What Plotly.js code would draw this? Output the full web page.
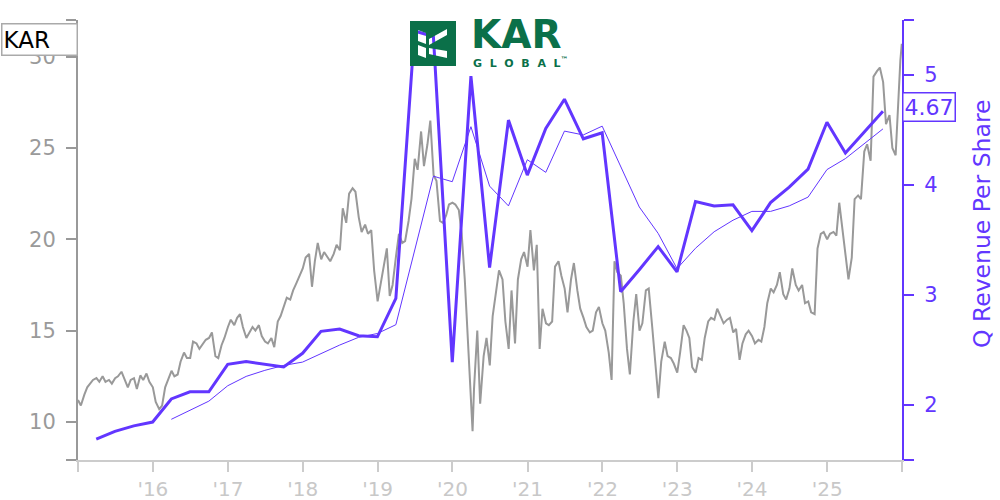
<!DOCTYPE html>
<html><head><meta charset="utf-8">
<script src="https://cdn.plot.ly/plotly-3.0.1.min.js"></script>
<style>html,body{margin:0;padding:0;background:#fff}#chart{width:1000px;height:500px}</style>
</head><body><div id="chart"></div><script>
// ---- data ----
const priceDates = [
 '2015-01-01','2015-01-15','2015-02-01','2015-02-15','2015-03-01','2015-03-15','2015-04-01','2015-04-15','2015-05-01','2015-05-15','2015-06-01','2015-06-15','2015-07-01','2015-07-15','2015-08-01','2015-08-15','2015-09-01','2015-09-15','2015-10-01','2015-10-15','2015-11-01','2015-11-15','2015-12-01','2015-12-15',
 '2016-01-01','2016-01-15','2016-02-01','2016-02-15','2016-03-01','2016-03-15','2016-04-01','2016-04-15','2016-05-01','2016-05-15','2016-06-01','2016-06-15','2016-07-01','2016-07-15','2016-08-01','2016-08-15','2016-09-01','2016-09-15','2016-10-01','2016-10-15','2016-11-01','2016-11-15','2016-12-01','2016-12-15',
 '2017-01-01','2017-01-15','2017-02-01','2017-02-15','2017-03-01','2017-03-15','2017-04-01','2017-04-15','2017-05-01','2017-05-15','2017-06-01','2017-06-15','2017-07-01','2017-07-15','2017-08-01','2017-08-15','2017-09-01','2017-09-15','2017-10-01','2017-10-15','2017-11-01','2017-11-15','2017-12-01','2017-12-15',
 '2018-01-01','2018-01-15','2018-02-01','2018-02-15','2018-03-01','2018-03-15','2018-04-01','2018-04-15','2018-05-01','2018-05-15','2018-06-01','2018-06-15','2018-07-01','2018-07-15','2018-08-01','2018-08-15','2018-09-01','2018-09-15','2018-10-01','2018-10-15','2018-11-01','2018-11-15','2018-12-01','2018-12-15',
 '2019-01-01','2019-01-15','2019-02-01','2019-02-15','2019-03-01','2019-03-15','2019-04-01','2019-04-15','2019-05-01','2019-05-15','2019-06-01','2019-06-15','2019-07-01','2019-07-15','2019-08-01','2019-08-15','2019-09-01','2019-09-15','2019-10-01','2019-10-15','2019-11-01','2019-11-15','2019-12-01','2019-12-15',
 '2020-01-01','2020-01-15','2020-02-01','2020-02-15','2020-03-01','2020-03-15','2020-04-01','2020-04-08','2020-04-15','2020-05-01','2020-05-15','2020-06-01','2020-06-15','2020-07-01','2020-07-15','2020-08-01','2020-08-15','2020-09-01','2020-09-15','2020-10-01','2020-10-15','2020-11-01','2020-11-15','2020-12-01','2020-12-15',
 '2021-01-01','2021-01-15','2021-02-01','2021-02-15','2021-03-01','2021-03-15','2021-04-01','2021-04-15','2021-05-01','2021-05-15','2021-06-01','2021-06-15','2021-07-01','2021-07-15','2021-08-01','2021-08-15','2021-09-01','2021-09-15','2021-10-01','2021-10-15','2021-11-01','2021-11-15','2021-12-01','2021-12-15',
 '2022-01-01','2022-01-15','2022-02-01','2022-02-15','2022-03-01','2022-03-15','2022-04-01','2022-04-15','2022-05-01','2022-05-15','2022-06-01','2022-06-15','2022-07-01','2022-07-15','2022-08-01','2022-08-15','2022-09-01','2022-09-15','2022-10-01','2022-10-15','2022-11-01','2022-11-15','2022-12-01','2022-12-15',
 '2023-01-01','2023-01-15','2023-02-01','2023-02-15','2023-03-01','2023-03-15','2023-04-01','2023-04-15','2023-05-01','2023-05-15','2023-06-01','2023-06-15','2023-07-01','2023-07-15','2023-08-01','2023-08-15','2023-09-01','2023-09-15','2023-10-01','2023-10-15','2023-11-01','2023-11-15','2023-12-01','2023-12-15',
 '2024-01-01','2024-01-15','2024-02-01','2024-02-15','2024-03-01','2024-03-15','2024-04-01','2024-04-15','2024-05-01','2024-05-15','2024-06-01','2024-06-15','2024-07-01','2024-07-15','2024-08-01','2024-08-15','2024-09-01','2024-09-15','2024-10-01','2024-10-15','2024-11-01','2024-11-15','2024-12-01','2024-12-15',
 '2025-01-01','2025-01-15','2025-02-01','2025-02-15','2025-03-01','2025-03-15','2025-04-01','2025-04-15','2025-05-01','2025-05-15','2025-06-01','2025-06-15','2025-07-01','2025-07-15','2025-08-01','2025-08-15','2025-09-01','2025-09-15','2025-10-01','2025-10-15','2025-11-01','2025-11-15','2025-12-01','2025-12-08','2025-12-15','2025-12-24','2025-12-31'
];
const priceValues = [
 11.2,10.9,11.5,11.9,12.1,12.3,12.4,12.2,12.5,12.2,12.3,12.1,12.4,12.5,12.75,12.4,11.9,12.3,12.4,11.8,12.55,12.3,12.65,12.2,
 11.9,11.1,10.7,10.9,11.9,12.3,12.8,12.5,12.6,13.3,13.8,13.5,13.5,14.4,14.3,14.0,14.3,14.5,14.6,14.9,13.6,13.5,14.2,14.6,
 15.2,15.6,15.3,15.7,15.9,15.2,14.6,14.9,15.2,15.0,15.3,14.7,14.4,14.3,14.6,14.1,15.5,15.8,16.3,16.8,16.7,17.2,17.6,18.0,
 18.4,19.0,19.2,17.4,18.8,19.8,18.9,19.3,19.0,18.8,19.2,19.7,19.4,21.7,20.9,22.5,22.8,22.6,21.2,20.4,20.8,20.3,20.5,18.3,
 16.6,17.5,18.6,19.5,16.9,17.5,19.1,20.3,19.8,19.9,21.0,22.2,24.4,23.8,25.9,24.0,25.2,26.5,23.5,23.2,21.0,20.9,21.3,21.9,
 22.0,21.9,21.6,20.3,17.8,14.5,10.5,9.5,11.8,15.0,11.0,13.6,14.6,13.1,15.8,17.3,18.3,17.8,15.5,14.0,17.2,14.3,17.8,18.9,19.3,
 18.5,20.5,18.3,19.7,14.0,16.2,15.4,15.3,15.5,18.5,18.8,18.0,17.3,16.0,17.8,18.7,17.2,16.2,15.7,15.2,14.9,15.0,16.0,16.3,
 15.4,15.0,13.8,12.3,18.8,18.2,18.0,16.5,14.0,12.6,15.5,17.0,15.0,15.4,17.2,17.3,15.2,13.5,11.3,13.3,14.4,13.6,13.5,13.2,
 12.7,13.8,15.3,15.0,14.6,13.0,12.7,13.5,13.4,14.6,15.5,15.7,15.6,16.2,15.8,15.4,15.6,15.7,14.9,15.1,13.4,14.3,14.8,15.0,
 14.7,14.3,14.5,14.4,15.2,16.5,17.3,17.1,17.5,18.2,17.0,16.7,17.3,18.4,17.5,17.2,17.5,16.5,16.6,16.0,15.9,19.5,20.3,20.4,
 20.0,20.3,20.4,20.2,22.0,20.7,19.2,17.8,19.0,22.2,22.4,22.2,24.8,25.2,24.3,28.9,29.2,29.4,28.6,26.3,26.8,25.0,24.6,26.3,27.4,29.8,30.7
];
const quarterDates = [
 '2015-03-31','2015-06-30','2015-09-30','2015-12-31','2016-03-31','2016-06-30','2016-09-30','2016-12-31',
 '2017-03-31','2017-06-30','2017-09-30','2017-12-31','2018-03-31','2018-06-30','2018-09-30','2018-12-31',
 '2019-03-31','2019-06-30','2019-09-30','2019-12-31','2020-03-31','2020-06-30','2020-09-30','2020-12-31',
 '2021-03-31','2021-06-30','2021-09-30','2021-12-31','2022-03-31','2022-06-30','2022-09-30','2022-12-31',
 '2023-03-31','2023-06-30','2023-09-30','2023-12-31','2024-03-31','2024-06-30','2024-09-30','2024-12-31',
 '2025-03-31','2025-06-30','2025-09-30'
];
const revenuePerShare = [
 1.69,1.76,1.81,1.845, 2.055,2.12,2.12,2.37, 2.395,2.37,2.345,2.47, 2.67,2.69,2.63,2.62,
 2.97,5.40,5.35,2.39, 4.99,3.25,4.59,4.09, 4.515,4.78,4.42,4.475, 3.03,3.23,3.44,3.21,
 3.85,3.81,3.82,3.585, 3.84,3.98,4.145,4.57, 4.29,4.48,4.67
];
const avgDates = quarterDates.slice(4);
const revenueAvg = [
 1.87,1.95,2.035,2.175, 2.26,2.315,2.36,2.39, 2.47,2.545,2.615,2.65, 2.73,3.41,4.08,4.03,
 4.53,3.99,3.81,4.23, 4.115,4.49,4.455,4.535, 4.176,3.80,3.56,3.24, 3.425,3.575,3.68,3.76,
 3.76,3.81,3.89,4.14, 4.24,4.37,4.51
];
const xTickVals = ['2015-01-01','2016-01-01','2017-01-01','2018-01-01','2019-01-01','2020-01-01','2021-01-01','2022-01-01','2023-01-01','2024-01-01','2025-01-01','2026-01-01'];
const xTickText = ['',"'16","'17","'18","'19","'20","'21","'22","'23","'24","'25",''];
const yTickVals = [7.92,10,15,20,25,30,32];
const yTickText = ['','10','15','20','25','30',''];
const y2TickVals = [1.5,2,3,4,5,5.5];
const y2TickText = ['','2','3','4','5',''];
const ticker = 'KAR';
const lastValueLabel = '4.67';
const y2Title = 'Q Revenue Per Share';
const logoWord = 'KAR';
const logoSub = 'G\u00a0\u00a0L\u00a0\u00a0O\u00a0\u00a0B\u00a0\u00a0A\u00a0\u00a0L<sup>\u2122</sup>';

// ---- style ----
const PURPLE = '#6236ff';
const GREEN = '#0b7049';
const FONT = 'DejaVu Sans, sans-serif';
const L = 78, R = 902, T = 20, B = 460;
const px2x = p => (p - L) / (R - L);
const px2y = p => (B - p) / (B - T);

const logoSvg = '<svg xmlns="http://www.w3.org/2000/svg" width="46" height="45" viewBox="0 0 46 45">' +
 '<path fill="' + GREEN + '" fill-rule="evenodd" d="M0 0H46V45H0Z M8 9L16 12L16 23L8 20Z M8 24L16 27L16 37L8 34Z M19 18L37 8L37 14L19 24Z M19 27L37 30L37 37L19 33Z"/></svg>';
const logoUri = 'data:image/svg+xml;charset=utf-8,' + encodeURIComponent(logoSvg);

const traces = [
 {x: priceDates, y: priceValues, type:'scatter', mode:'lines', line:{color:'#999999', width:2}, yaxis:'y', hoverinfo:'skip'},
 {x: avgDates, y: revenueAvg, type:'scatter', mode:'lines', line:{color:PURPLE, width:1}, yaxis:'y2', hoverinfo:'skip'},
 {x: quarterDates, y: revenuePerShare, type:'scatter', mode:'lines', line:{color:PURPLE, width:3}, yaxis:'y2', hoverinfo:'skip'}
];

const layout = {
 width:1000, height:500,
 margin:{l:L, r:1000-R, t:T, b:500-B, pad:0},
 paper_bgcolor:'#ffffff', plot_bgcolor:'#ffffff',
 showlegend:false,
 font:{family:FONT},
 xaxis:{type:'date', range:['2015-01-01','2026-01-01'], tickmode:'array', tickvals:xTickVals, ticktext:xTickText,
  showgrid:false, zeroline:false, showline:true, linecolor:'#cccccc', linewidth:2,
  ticks:'outside', ticklen:10, tickwidth:2, tickcolor:'#cccccc', tickfont:{family:FONT, size:20, color:'#c8c8c8'}},
 yaxis:{range:[7.92,32], tickmode:'array', tickvals:yTickVals, ticktext:yTickText,
  showgrid:false, zeroline:false, showline:true, linecolor:'#999999', linewidth:2,
  ticks:'outside', ticklen:10, tickwidth:2, tickcolor:'#999999', ticklabelstandoff:6,
  tickfont:{family:FONT, size:21, color:'#9a9a9a'}},
 yaxis2:{overlaying:'y', side:'right', range:[1.5,5.5], tickmode:'array', tickvals:y2TickVals, ticktext:y2TickText,
  showgrid:false, zeroline:false, showline:true, linecolor:PURPLE, linewidth:2,
  ticks:'outside', ticklen:10, tickwidth:2, tickcolor:PURPLE, ticklabelstandoff:6,
  tickfont:{family:FONT, size:21, color:PURPLE}},
 images:[{source:logoUri, xref:'paper', yref:'paper', x:px2x(410), y:px2y(21), sizex:46/(R-L), sizey:45/(B-T),
  xanchor:'left', yanchor:'top', sizing:'stretch', layer:'above'}],
 annotations:[
  {text:ticker, xref:'paper', yref:'paper', x:0, y:px2y(22.7), xanchor:'right', yanchor:'top', showarrow:false,
   width:72, height:28, align:'left', font:{family:FONT, size:23, color:'#000000'},
   bordercolor:'#aaaaaa', borderwidth:1.5, borderpad:1, bgcolor:'#ffffff'},
  {text:lastValueLabel, xref:'paper', yref:'y2', x:1, y:4.67, xanchor:'left', yanchor:'middle', yshift:4, showarrow:false,
   font:{family:FONT, size:22, color:PURPLE}, bordercolor:PURPLE, borderwidth:1.5, borderpad:1, bgcolor:'#ffffff'},
  {text:y2Title, xref:'paper', yref:'paper', x:px2x(982), y:px2y(224), xanchor:'center', yanchor:'middle', textangle:-90,
   showarrow:false, font:{family:FONT, size:23.5, color:PURPLE}},
  {text:logoWord, xref:'paper', yref:'paper', x:px2x(469), y:px2y(35), xanchor:'left', yanchor:'middle', showarrow:false,
   font:{family:'DejaVu Sans', size:39, color:GREEN, weight:700}},
  {text:logoSub, xref:'paper', yref:'paper', x:px2x(471), y:px2y(62.5), xanchor:'left', yanchor:'middle', showarrow:false,
   font:{family:'DejaVu Sans', size:11, color:GREEN, weight:700}}
 ]
};

Plotly.newPlot('chart', traces, layout, {displayModeBar:false, staticPlot:true});
</script></body></html>
